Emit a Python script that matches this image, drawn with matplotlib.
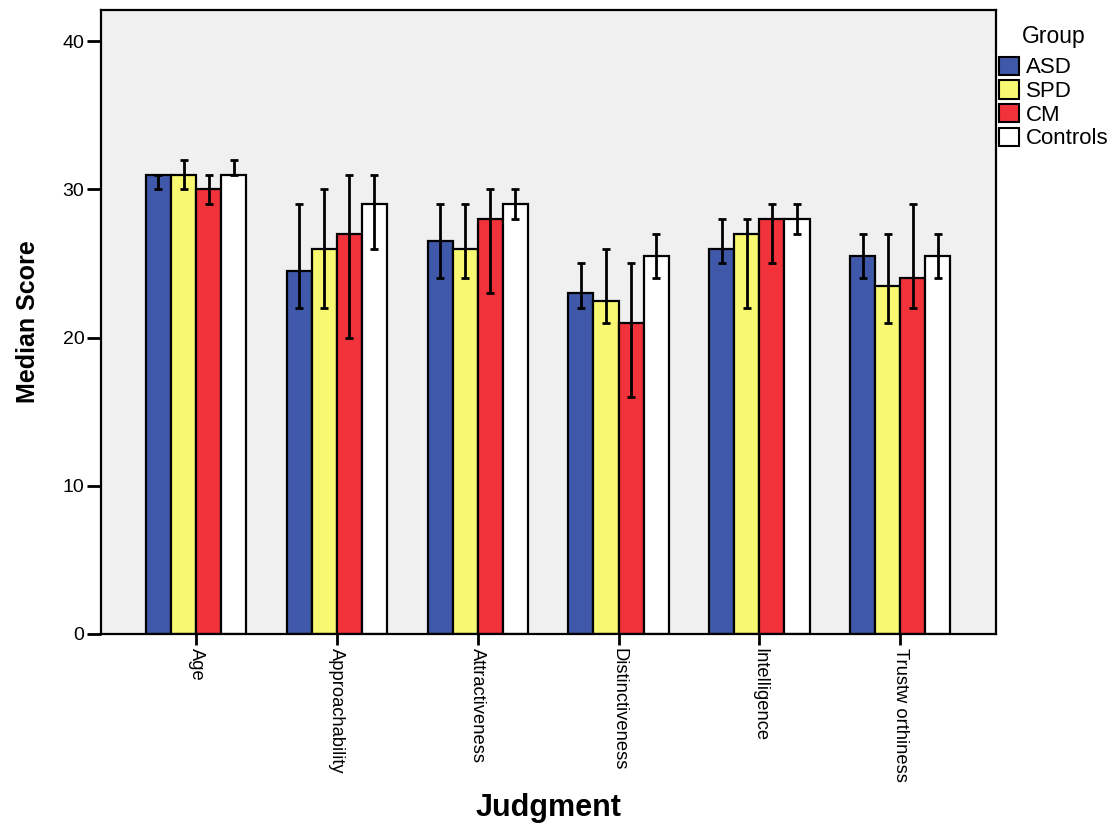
import matplotlib
matplotlib.use("Agg")
import matplotlib.pyplot as plt
from matplotlib.patches import Patch
import numpy as np

plt.rcParams['font.family'] = ['Liberation Sans', 'DejaVu Sans']

categories = ["Age", "Approachability", "Attractiveness", "Distinctiveness", "Intelligence", "Trustw orthiness"]
groups = ["ASD", "SPD", "CM", "Controls"]
colors = ["#3F58A9", "#F9F871", "#F1323A", "#FFFFFF"]

asd = [31, 24.5, 26.5, 23, 26, 25.5]
spd = [31, 26, 26, 22.5, 27, 23.5]
cm = [30, 27, 28, 21, 28, 24]
controls = [31, 29, 29, 25.5, 28, 25.5]

asd_lo = [30, 22, 24, 22, 25, 24]
asd_hi = [31, 29, 29, 25, 28, 27]
spd_lo = [30, 22, 24, 21, 22, 21]
spd_hi = [32, 30, 29, 26, 28, 27]
cm_lo = [29, 20, 23, 16, 25, 22]
cm_hi = [31, 31, 30, 25, 29, 29]
controls_lo = [31, 26, 28, 24, 27, 24]
controls_hi = [32, 31, 30, 27, 29, 27]

values = [asd, spd, cm, controls]
lows = [asd_lo, spd_lo, cm_lo, controls_lo]
highs = [asd_hi, spd_hi, cm_hi, controls_hi]

fig = plt.figure(figsize=(11.19, 8.25), dpi=100)
ax = fig.add_axes([101/1119, 1 - 634/825, (996-101)/1119, (634-10)/825])
ax.set_facecolor("#F0F0F0")

x = np.arange(len(categories))
w = 0.178
for i, (vals, lo, hi, c) in enumerate(zip(values, lows, highs, colors)):
    pos = x + (i - 1.5) * w
    ax.bar(pos, vals, width=w, color=c, edgecolor="black", linewidth=1.6, zorder=2)
    v = np.array(vals); l = np.array(lo); h = np.array(hi)
    ax.errorbar(pos, v, yerr=[v - l, h - v], fmt="none", ecolor="black",
                elinewidth=2, capsize=3, capthick=2, zorder=3)

ax.set_xlim(-0.675, 5.68)
ax.set_ylim(0, 42.1)
ax.set_yticks([0, 10, 20, 30, 40])
ax.set_xticks(x)
ax.set_xticklabels(categories, rotation=-90, va="top", ha="center", fontsize=13.2)
ax.tick_params(axis="y", labelsize=14, length=10, width=2, direction="out", pad=2)
ax.tick_params(axis="x", length=8, width=2, direction="out", pad=2)
for s in ax.spines.values():
    s.set_linewidth(1.6)
    s.set_color("black")

ax.set_ylabel("Median Score", fontsize=18, fontweight="bold", labelpad=16)
fig.text((101+996)/2/1119, 1 - 808/825, "Judgment", fontsize=22, fontweight="bold",
         ha="center", va="center")

handles = [Patch(facecolor=c, edgecolor="black", linewidth=1.5) for c in colors]
leg = fig.legend(handles, groups, loc="upper left", bbox_to_anchor=(997/1119, 1 - 23/825),
                 frameon=False, title="Group", fontsize=16, title_fontsize=16.5,
                 handlelength=0.9, handleheight=0.9, handletextpad=0.3,
                 labelspacing=0.08, borderaxespad=0, borderpad=0.1)
leg._legend_box.align = "center"
leg._legend_box.sep = 6

fig.savefig("out.png", dpi=100)
